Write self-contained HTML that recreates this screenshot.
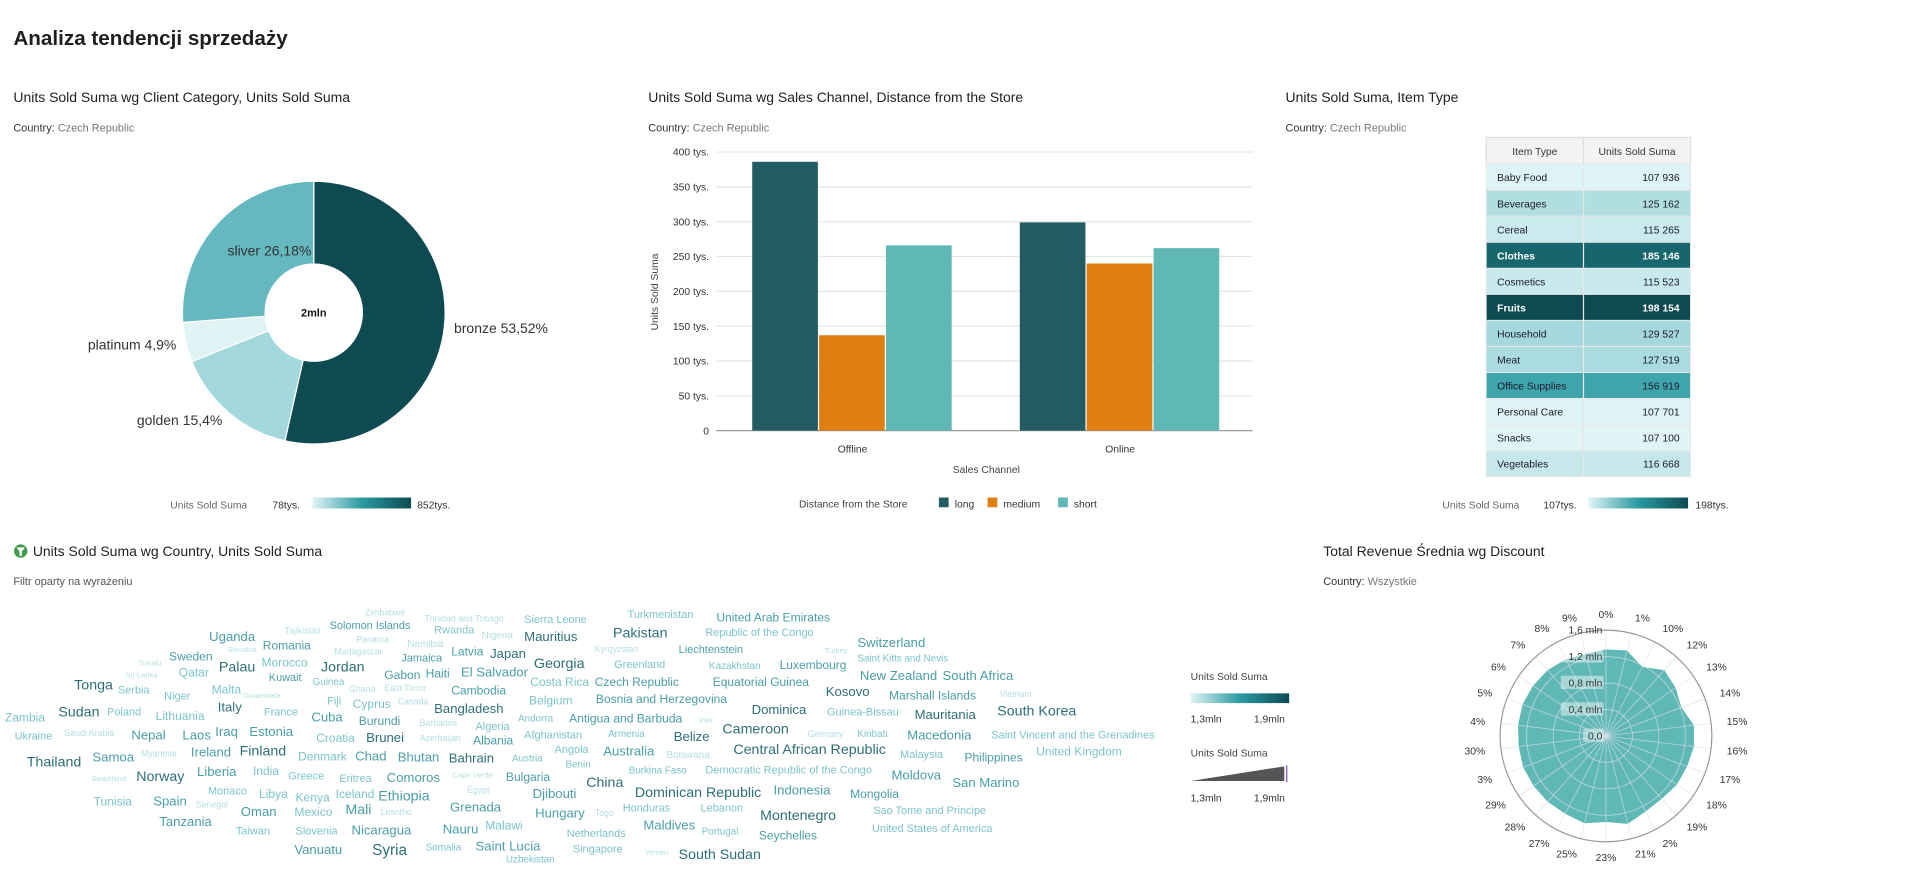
<!DOCTYPE html>
<html><head><meta charset="utf-8"><style>
html,body{margin:0;padding:0;background:#fff;overflow:hidden}
svg{display:block;font-family:"Liberation Sans",sans-serif}
</style></head><body>
<svg id="root" width="1907" height="888" viewBox="0 0 1568 730" preserveAspectRatio="none">
<text x="11" y="37" font-size="17" font-weight="bold" fill="#1f1f1f">Analiza tendencji sprzedaży</text>

<g>
<text x="11" y="84" font-size="11.5" fill="#222">Units Sold Suma wg Client Category, Units Sold Suma</text>
<text x="11" y="108" font-size="9" fill="#333">Country: <tspan fill="#777">Czech Republic</tspan></text>
</g>
<g>
<text x="533" y="84" font-size="11.5" fill="#222">Units Sold Suma wg Sales Channel, Distance from the Store</text>
<text x="533" y="108" font-size="9" fill="#333">Country: <tspan fill="#777">Czech Republic</tspan></text>
</g>
<g>
<text x="1057" y="84" font-size="11.5" fill="#222">Units Sold Suma, Item Type</text>
<text x="1057" y="108" font-size="9" fill="#333">Country: <tspan fill="#777">Czech Republic</tspan></text>
</g>
<g>
<circle cx="17" cy="453" r="5.5" fill="#3f9b4a"/>
<path d="M13.5 450 L20.5 450 L18 453.5 L18 457 L16 457 L16 453.5 Z" fill="#fff"/>
<text x="27" y="457" font-size="11.5" fill="#222">Units Sold Suma wg Country, Units Sold Suma</text>
<text x="11" y="481" font-size="9" fill="#555">Filtr oparty na wyrażeniu</text>
</g>
<g>
<text x="1088" y="457" font-size="11.5" fill="#222">Total Revenue Średnia wg Discount</text>
<text x="1088" y="481" font-size="9" fill="#333">Country: <tspan fill="#777">Wszystkie</tspan></text>
</g>

<g id="pie"></g>
<g id="bar"></g>
<g id="tbl"></g>
<g id="cloud"></g>
<g id="polar"></g>

<defs>
<linearGradient id="gr" x1="0" x2="1" y1="0" y2="0">
<stop offset="0" stop-color="#e0f4f6"/><stop offset="0.5" stop-color="#2a9aa2"/><stop offset="1" stop-color="#0e4a52"/>
</linearGradient>
</defs>
<g>
<text x="140" y="418" font-size="8.5" fill="#666">Units Sold Suma</text>
<text x="224" y="418" font-size="8.5" fill="#333">78tys.</text>
<rect x="257" y="409" width="81" height="9" fill="url(#gr)"/>
<text x="343" y="418" font-size="8.5" fill="#333">852tys.</text>
</g>
<g>
<text x="1186" y="418" font-size="8.5" fill="#666">Units Sold Suma</text>
<text x="1269" y="418" font-size="8.5" fill="#333">107tys.</text>
<rect x="1306" y="409" width="82" height="9" fill="url(#gr)"/>
<text x="1394" y="418" font-size="8.5" fill="#333">198tys.</text>
</g>
<g>
<text x="979" y="559" font-size="8.5" fill="#444">Units Sold Suma</text>
<rect x="979" y="570" width="81" height="8" fill="url(#gr)"/>
<text x="979" y="594" font-size="8.5" fill="#333">1,3mln</text>
<text x="1031" y="594" font-size="8.5" fill="#333">1,9mln</text>
<text x="979" y="622" font-size="8.5" fill="#444">Units Sold Suma</text>
<path d="M979 642 L1056 630 L1056 642 Z" fill="#555"/>
<line x1="1058" y1="629" x2="1058" y2="643" stroke="#7a4fc0" stroke-width="1"/>
<text x="979" y="659" font-size="8.5" fill="#333">1,3mln</text>
<text x="1031" y="659" font-size="8.5" fill="#333">1,9mln</text>
</g>
</svg>
<script>
var NS="http://www.w3.org/2000/svg";
function mk(p,t,a){var e=document.createElementNS(NS,t);for(var k in a)e.setAttribute(k,a[k]);p.appendChild(e);return e;}

// ---- donut data ----
var pieCats=["bronze","golden","platinum","sliver"];
var pieValues=[53.52,15.4,4.9,26.18];
var pieColors=["#0e4a52","#a3d8dc","#e0f4f6","#66b8c0"];
var pieLabelTxt=["bronze 53,52%","golden 15,4%","platinum 4,9%","sliver 26,18%"];

// ---- bar data ----
var barCats=["Offline","Online"];
var longVals=[386000,299000];
var mediumVals=[137000,240000];
var shortVals=[266000,262000];
var barTicks=[0,50000,100000,150000,200000,250000,300000,350000,400000];
var barTickLabels=["0","50 tys.","100 tys.","150 tys.","200 tys.","250 tys.","300 tys.","350 tys.","400 tys."];

// ---- table data ----
var itemTypes=["Baby Food","Beverages","Cereal","Clothes","Cosmetics","Fruits","Household","Meat","Office Supplies","Personal Care","Snacks","Vegetables"];
var itemValues=[107936,125162,115265,185146,115523,198154,129527,127519,156919,107701,107100,116668];

// ---- polar data ----
var discountCats=["0%","1%","10%","12%","13%","14%","15%","16%","17%","18%","19%","2%","21%","23%","25%","27%","28%","29%","3%","30%","4%","5%","6%","7%","8%","9%"];
var revenueValues=[1.31,1.33,1.18,1.33,1.28,1.22,1.34,1.34,1.31,1.3,1.27,1.29,1.37,1.3,1.36,1.33,1.33,1.33,1.34,1.33,1.34,1.35,1.34,1.33,1.31,1.28];
var polarTicks=[0,0.4,0.8,1.2,1.6];
var polarTickLabels=["0,0","0,4 mln","0,8 mln","1,2 mln","1,6 mln"];

// ---- word cloud data: [country, x, y, size, shade] ----
var countries=[
["Zimbabwe",300,506,8,0],["Trinidad and Tobago",349,511,8,0],["Sierra Leone",431,512,10,1],["Turkmenistan",516,508,10,1],["United Arab Emirates",589,511,11,2],
["Tajikistan",234,521,8,0],["Solomon Islands",271,517,10,2],["Rwanda",357,521,10,1],["Nigeria",396,525,9,0],["Mauritius",431,527,12,3],["Pakistan",504,524,13,3],["Republic of the Congo",580,523,10,1],
["Uganda",172,527,12,2],["Panama",293,528,8,0],["Slovakia",187,536,7,0],["Romania",216,534,11,2],["Namibia",335,532,9,0],["Latvia",371,539,11,2],["Kyrgyzstan",489,536,8,0],["Liechtenstein",558,537,10,2],["Turkey",678,537,7,0],["Switzerland",705,532,12,2],
["Madagascar",275,538,8,0],["Japan",403,541,12,3],["Jordan",264,552,13,3],["Sweden",139,543,11,2],["Jamaica",330,544,10,2],["Georgia",439,549,13,3],["Greenland",505,549,10,1],["Kazakhstan",583,550,9,1],["Luxembourg",641,550,11,2],["Saint Kitts and Nevis",705,544,9,1],
["Tuvalu",114,547,7,0],["Palau",180,552,13,3],["Morocco",215,548,11,1],["Qatar",147,556,11,1],["Sri Lanka",103,557,7,0],["Kuwait",221,560,10,2],["Guinea",257,563,9,1],["Gabon",316,558,11,2],["Haiti",350,557,11,2],["El Salvador",379,556,12,2],
["Ghana",287,569,8,0],["East Timor",316,568,8,0],["Costa Rica",436,564,11,1],["Czech Republic",489,564,11,2],["Equatorial Guinea",586,564,11,2],["Kosovo",679,572,12,3],["New Zealand",707,559,12,2],["South Africa",775,559,12,2],
["Tonga",61,567,13,3],["Serbia",97,570,10,1],["Niger",135,575,10,1],["Malta",174,570,11,1],["Guatemala",200,574,7,0],["Cambodia",371,571,11,2],["Belgium",435,579,11,1],["Bosnia and Herzegovina",490,578,11,2],["Vietnam",822,573,8,0],["Marshall Islands",731,575,11,2],["Dominica",618,587,12,3],
["Italy",179,585,12,3],["France",217,588,10,1],["Fiji",269,579,10,1],["Cyprus",290,582,11,1],["Canada",327,579,8,0],["Bangladesh",357,586,12,3],["Zambia",4,593,11,1],["Sudan",48,589,13,3],["Poland",88,588,10,1],["Lithuania",128,592,11,1],["Cuba",256,593,12,2],["Burundi",295,596,11,2],["Barbados",345,597,8,0],["Algeria",391,600,10,1],["Andorra",426,593,9,1],["Antigua and Barbuda",468,594,11,2],["Iran",575,594,7,0],["Guinea-Bissau",680,588,10,1],["Mauritania",752,591,12,3],["South Korea",820,588,13,3],
["Ukraine",12,608,10,1],["Saudi Arabia",53,605,8,0],["Nepal",108,608,12,2],["Laos",150,608,12,2],["Iraq",177,605,12,2],["Estonia",205,605,12,2],["Croatia",260,610,11,1],["Brunei",301,610,12,3],["Azerbaijan",345,609,8,0],["Albania",389,612,11,2],["Afghanistan",431,607,10,1],["Armenia",500,606,9,1],["Belize",554,609,12,3],["Cameroon",594,603,13,3],["Germany",664,606,8,0],["Kiribati",705,606,9,1],["Macedonia",746,608,12,2],["Saint Vincent and the Grenadines",815,607,10,1],
["Thailand",22,630,13,3],["Samoa",76,626,12,2],["Myanmar",116,622,8,0],["Ireland",157,622,12,2],["Finland",197,621,13,3],["Denmark",245,625,11,1],["Chad",292,625,12,2],["Bhutan",327,626,12,2],["Bahrain",369,627,12,3],["Austria",421,626,9,1],["Angola",456,619,10,1],["Australia",496,621,12,2],["Botswana",548,623,9,0],["Central African Republic",603,620,13,3],["Malaysia",740,623,10,1],["Philippines",793,626,11,2],["United Kingdom",852,621,11,1],
["Liberia",162,638,12,2],["India",208,637,11,1],["Greece",237,641,10,1],["Eritrea",279,643,10,1],["Comoros",318,643,12,2],["Cape Verde",372,639,7,0],["Bulgaria",416,642,11,2],["Benin",465,631,9,1],["China",482,647,13,3],["Burkina Faso",517,636,9,1],["Democratic Republic of the Congo",580,636,10,1],["Moldova",733,641,12,2],["San Marino",783,647,12,2],
["Swaziland",75,642,7,0],["Norway",112,642,13,3],["Monaco",171,653,10,1],["Libya",213,656,11,1],["Kenya",243,659,11,1],["Iceland",276,656,11,1],["Ethiopia",311,658,13,2],["Egypt",384,652,8,0],["Djibouti",438,656,12,2],["Dominican Republic",522,655,13,3],["Indonesia",636,653,12,2],["Mongolia",699,656,11,2],
["Tunisia",77,662,11,1],["Spain",126,662,12,2],["Senegal",161,664,8,0],["Oman",198,671,12,2],["Mexico",242,671,11,1],["Mali",284,669,13,2],["Lesotho",313,670,8,0],["Grenada",370,667,12,2],["Hungary",440,672,12,2],["Togo",489,671,8,0],["Honduras",512,667,10,1],["Lebanon",576,667,10,1],["Montenegro",625,674,13,3],["Sao Tome and Principe",718,669,10,1],
["Tanzania",131,679,12,2],["Taiwan",194,686,10,1],["Slovenia",243,686,10,1],["Nicaragua",289,686,12,2],["Nauru",364,685,12,2],["Malawi",399,682,11,1],["Netherlands",466,688,10,1],["Maldives",529,682,12,2],["Portugal",577,686,9,1],["Seychelles",624,690,11,2],["United States of America",717,684,10,1],
["Vanuatu",242,702,12,2],["Syria",306,703,14,3],["Somalia",350,699,9,1],["Saint Lucia",391,699,12,2],["Singapore",471,701,10,1],["Yemen",530,703,7,0],["South Sudan",558,706,13,3],["Uzbekistan",416,709,9,1]
];
var shadeColors=["#b3dfe3","#7cc4cb","#4a9ea8","#2e6e77"];

// ===== DONUT =====
(function(){
  var g=document.getElementById("pie");
  var cx=258,cy=257,R=108,r=40,tot=pieValues.reduce(function(a,b){return a+b;},0);
  var a0=-Math.PI/2;
  pieValues.forEach(function(v,i){
    var a1=a0+v/tot*2*Math.PI,lg=(a1-a0)>Math.PI?1:0;
    var p=function(rad,a){return (cx+rad*Math.cos(a)).toFixed(2)+" "+(cy+rad*Math.sin(a)).toFixed(2);};
    var d="M"+p(R,a0)+" A"+R+" "+R+" 0 "+lg+" 1 "+p(R,a1)+" L"+p(r,a1)+" A"+r+" "+r+" 0 "+lg+" 0 "+p(r,a0)+"Z";
    var s=mk(g,"path",{d:d,fill:pieColors[i],stroke:"#fff","stroke-width":1});
    
    
    var mid=(a0+a1)/2,lx=cx+(R+8)*Math.cos(mid),ly=cy+(R+8)*Math.sin(mid)+4;
    var anchor=Math.cos(mid)>0?"start":"end";
    if(pieCats[i]==="sliver"){lx=cx-2;ly=cy-47;anchor="end";}
    var t=mk(g,"text",{x:lx.toFixed(1),y:ly.toFixed(1),"font-size":11.5,fill:"#333","text-anchor":anchor});
    t.textContent=pieLabelTxt[i];
    
    
    a0=a1;
  });
  var c=mk(g,"text",{x:cx,y:cy+3,"font-size":9,"font-weight":"bold",fill:"#111","text-anchor":"middle"});
  c.textContent="2mln";
  
  
})();

// ===== BAR =====
(function(){
  var g=document.getElementById("bar");
  var x0=589,x1=1030,y0=354,h=229,maxV=400000;
  var y=function(v){return y0-v/maxV*h;};
  barTicks.forEach(function(v,i){
    var l=mk(g,"line",{x1:x0,x2:x1,y1:y(v),y2:y(v),stroke:v===0?"#999":"#e6e6e6","stroke-width":1});
    
    
    var t=mk(g,"text",{x:583,y:y(v)+3,"font-size":8.5,fill:"#333","text-anchor":"end"});
    t.textContent=barTickLabels[i];
    
    
  });
  var series=[["long",longVals,"#245c64"],["medium",mediumVals,"#de7e13"],["short",shortVals,"#5fb8b5"]];
  var groupCenters=[701,921],bw=55;
  barCats.forEach(function(c,ci){
    var gc=groupCenters[ci];
    series.forEach(function(s,si){
      var bx=gc-bw*1.5+si*bw;
      var b=mk(g,"rect",{x:bx.toFixed(1),y:y(s[1][ci]).toFixed(1),width:bw-1,height:(y0-y(s[1][ci])).toFixed(1),fill:s[2]});
      
      
    });
    var t=mk(g,"text",{x:gc,y:372,"font-size":8.5,fill:"#333","text-anchor":"middle"});
    t.textContent=c;
    
    
  });
  var xt=mk(g,"text",{x:811,y:389,"font-size":8.5,fill:"#444","text-anchor":"middle"});
  xt.textContent="Sales Channel";
  
  
  var yt=mk(g,"text",{x:0,y:0,"font-size":8.5,fill:"#444","text-anchor":"middle",transform:"translate(541,240) rotate(-90)"});
  yt.textContent="Units Sold Suma";
  
  
  var lt=mk(g,"text",{x:657,y:417,"font-size":8.5,fill:"#444"});
  lt.textContent="Distance from the Store";
  
  
  var lx=[772,812,870];
  series.forEach(function(s,si){
    var r=mk(g,"rect",{x:lx[si],y:409,width:8,height:8,fill:s[2]});
    
    
    var t=mk(g,"text",{x:lx[si]+13,y:417,"font-size":8.5,fill:"#333"});
    t.textContent=s[0];
    
    
  });
})();

// ===== TABLE =====
(function(){
  var g=document.getElementById("tbl");
  var x=1222,w1=80,w2=88,top=113,hh=22,rh=21.4;
  var mn=Math.min.apply(null,itemValues),mx=Math.max.apply(null,itemValues);
  var stops=[[0,[224,244,246]],[0.25,[163,216,220]],[0.55,[62,165,173]],[0.86,[23,100,108]],[1,[14,74,82]]];
  function col(v){var t=(v-mn)/(mx-mn);for(var i=1;i<stops.length;i++){if(t<=stops[i][0]){var a=stops[i-1],b=stops[i],f=(t-a[0])/(b[0]-a[0]);return "rgb("+a[1].map(function(c,k){return Math.round(c+(b[1][k]-c)*f);}).join(",")+")";}}return "rgb(14,74,82)";}
  var hd=mk(g,"rect",{x:x,y:top,width:w1+w2,height:hh,fill:"#f3f3f3",stroke:"#ddd","stroke-width":1});
  
  
  mk(g,"line",{x1:x+w1,x2:x+w1,y1:top,y2:top+hh,stroke:"#ddd"});
  var h1=mk(g,"text",{x:x+w1/2,y:top+14.5,"font-size":8.5,fill:"#333","text-anchor":"middle"});h1.textContent="Item Type";
  
  
  var h2=mk(g,"text",{x:x+w1+w2/2,y:top+14.5,"font-size":8.5,fill:"#333","text-anchor":"middle"});h2.textContent="Units Sold Suma";
  
  
  itemTypes.forEach(function(n,i){
    var yy=top+hh+i*rh,c=col(itemValues[i]),t=(itemValues[i]-mn)/(mx-mn),fc=t>0.7?"#fff":"#1a1a2a",fw=t>0.7?"bold":"normal";
    var r=mk(g,"rect",{x:x,y:yy.toFixed(1),width:w1+w2,height:rh.toFixed(1),fill:c,stroke:"#e8e8e8","stroke-width":0.8});
    
    
    mk(g,"line",{x1:x+w1,x2:x+w1,y1:yy,y2:yy+rh,stroke:"#e8e8e8"});
    var a=mk(g,"text",{x:x+9,y:(yy+14).toFixed(1),"font-size":8.5,fill:fc,"font-weight":fw});a.textContent=n;
    
    
    var b=mk(g,"text",{x:x+w1+w2-9,y:(yy+14).toFixed(1),"font-size":8.5,fill:fc,"font-weight":fw,"text-anchor":"end"});
    b.textContent=String(itemValues[i]).replace(/(\d)(\d{3})$/,"$1 $2");
    
    
  });
})();

// ===== WORD CLOUD =====
(function(){
  var g=document.getElementById("cloud");
  countries.forEach(function(w){
    var t=mk(g,"text",{x:w[1],y:w[2],"font-size":(w[3]*0.9).toFixed(1),fill:shadeColors[w[4]]});
    t.textContent=w[0];
    
    
  });
})();

// ===== POLAR =====
(function(){
  var g=document.getElementById("polar");
  var cx=1320.5,cy=605,R=87,maxV=1.6,n=discountCats.length;
  var ang=function(i){return -Math.PI/2+i*2*Math.PI/n;};
  var rr=function(v){return v/maxV*R;};
  var pts=revenueValues.map(function(v,i){return (cx+rr(v)*Math.cos(ang(i))).toFixed(1)+","+(cy+rr(v)*Math.sin(ang(i))).toFixed(1);}).join(" ");
  var poly=mk(g,"polygon",{points:pts,fill:"#5fb8b5"});
  
  
  for(var i=0;i<n;i++){
    var l=mk(g,"line",{x1:cx,y1:cy,x2:cx+R*Math.cos(ang(i)),y2:cy+R*Math.sin(ang(i)),stroke:"rgba(215,222,232,0.7)","stroke-width":0.7});
    
    
  }
  polarTicks.forEach(function(v,k){
    if(v>0){var c=mk(g,"circle",{cx:cx,cy:cy,r:rr(v),fill:"none",stroke:v===maxV?"#999":"rgba(215,222,232,0.75)","stroke-width":v===maxV?1:0.7});
    
    }
  });
  polarTicks.forEach(function(v,k){
    var ty=cy-rr(v)+3,tw=polarTickLabels[k].length*4.6+3;
    if(v<maxV) mk(g,"rect",{x:cx-2-tw,y:ty-9,width:tw,height:11,fill:"rgba(255,255,255,0.45)",rx:1});
    var t=mk(g,"text",{x:cx-3,y:ty,"font-size":8.5,fill:"#333","text-anchor":"end"});
    t.textContent=polarTickLabels[k];
    
    
  });
  discountCats.forEach(function(c,i){
    var a=ang(i),lr=R+13,x=cx+lr*Math.cos(a),y=cy+lr*Math.sin(a)+3;
    var cs=Math.cos(a),anc=Math.abs(cs)<0.15?"middle":(cs>0?"start":"end");
    var t=mk(g,"text",{x:x.toFixed(1),y:y.toFixed(1),"font-size":8.5,fill:"#333","text-anchor":anc});
    t.textContent=c;
    
    
  });
})();
</script>
</body></html>
